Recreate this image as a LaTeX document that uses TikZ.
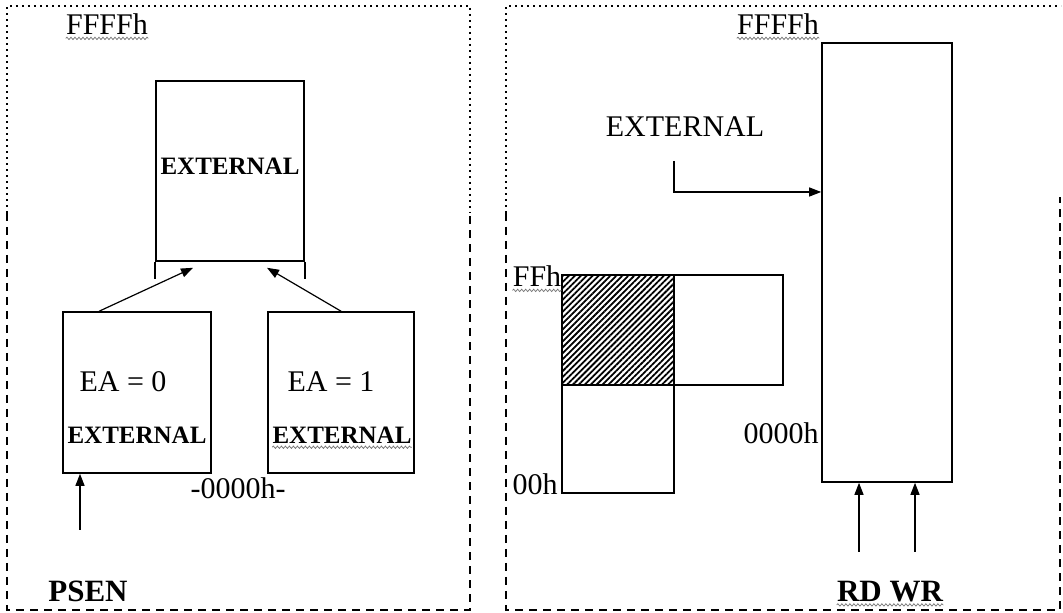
\documentclass[tikz,border=0pt]{standalone}
\usepackage{fontspec}
\setmainfont{Liberation Serif}
\usetikzlibrary{arrows.meta,patterns.meta,decorations.pathmorphing}

\begin{document}
\begin{tikzpicture}[x=0.5pt,y=0.5pt,
  mem/.style={draw, line width=0.8pt, inner sep=0pt},
  txt/.style={font=\fontsize{15}{17}\selectfont, inner sep=0pt},
  btxt/.style={font=\fontsize{12.5}{15}\selectfont\bfseries, inner sep=0pt},
  sig/.style={font=\fontsize{15.5}{17}\selectfont\bfseries, inner sep=0pt},
  arr/.style={-{Triangle[length=6pt,width=4.5pt]}, line width=0.6pt},
  dotline/.style={line width=0.8pt, dash pattern=on 0.9pt off 2.1pt},
  dashline/.style={line width=0.7pt, dash pattern=on 4pt off 3pt},
  squig/.style={draw=black!55, line width=0.35pt, decorate, decoration={snake, amplitude=0.6pt, segment length=2pt}},
]
\useasboundingbox (0,0) rectangle (1063,613);
% frames
\draw[dotline] (7,400) -- (7,607) -- (470,607) -- (470,400);
\draw[dashline] (7,400) -- (7,3) -- (470,3) -- (470,400);
\draw[dotline] (506,400) -- (506,607) -- (1061,607);
\draw[dashline] (506,400) -- (506,3) -- (1060,3) -- (1060,416);
% program memory
\node[txt] (ptop) at (107,589) {FFFFh};
\node[mem, btxt, minimum width=74pt, minimum height=90pt, text depth=5pt] (ext0) at (230,442) {EXTERNAL};
\draw[line width=0.8pt] (ext0.south west) -- ++(0,-17);
\draw[line width=0.8pt] (ext0.south east) -- ++(0,-17);
\node[mem, minimum width=74pt, minimum height=80.5pt] (ea0) at (137,220.5) {};
\node[mem, minimum width=73pt, minimum height=80.5pt] (ea1) at (341,220.5) {};
\node[txt] (ea0val) at (123,231) {EA = 0};
\node[btxt] (ea0ext) at (137,178) {EXTERNAL};
\node[txt] (ea1val) at (331,231) {EA = 1};
\node[btxt] (ea1ext) at (342,178) {EXTERNAL};
\node[txt] (pbot) at (238,125) {-0000h-};
\node[sig] (psen) at (88,22) {PSEN};
\coordinate (psenin) at (80,83);
\draw[arr] ([xshift=18.5pt]ea0.north west) -- ([xshift=-18.5pt,yshift=-3pt]ext0.south);
\draw[arr] (ea1.north) -- ([xshift=18.5pt,yshift=-3pt]ext0.south);
\draw[arr] (psenin) -- (psenin |- ea0.south);
% data memory
\node[txt] (dtop) at (778,589) {FFFFh};
\node[txt] (dext) at (685,486) {EXTERNAL};
\node[mem, minimum width=65pt, minimum height=219.5pt] (xram) at (887,350.5) {};
\coordinate (tick) at (674,452);
\coordinate (bend) at (674,421);
\draw[arr] (tick) -- (bend) -- (bend -| xram.west);
\node[mem, pattern={Lines[angle=45,distance=2.1pt,line width=0.9pt]}, minimum width=56pt, minimum height=55pt] (ihi) at (618,283) {};
\node[mem, minimum width=56pt, minimum height=54pt] (ilo) at (618,174) {};
\node[mem, minimum width=54.5pt, minimum height=55pt] (sfr) at (728.5,283) {};
\node[txt] (ffh) at (537,337) {FFh};
\node[txt] (zh) at (535,129) {00h};
\node[txt] (xbot) at (781,180) {0000h};
\coordinate (rdin) at (859,61);
\coordinate (wrin) at (915,61);
\draw[arr] (rdin) -- (rdin |- xram.south);
\draw[arr] (wrin) -- (wrin |- xram.south);
\node[sig] (rdwr) at (890,21) {RD WR};
% spelling marks
\draw[squig] ([yshift=-2pt]ptop.base west) -- ([yshift=-2pt]ptop.base east);
\draw[squig] ([yshift=-2pt]dtop.base west) -- ([yshift=-2pt]dtop.base east);
\draw[squig] ([yshift=-2pt]ffh.base west) -- ([yshift=-2pt]ffh.base east);
\draw[squig] ([yshift=-2pt]ea1ext.base west) -- ([yshift=-2pt]ea1ext.base east);
\draw[squig] ([yshift=-1.5pt]rdwr.base west) -- ([yshift=-1.5pt]rdwr.base east);
\end{tikzpicture}
\end{document}
